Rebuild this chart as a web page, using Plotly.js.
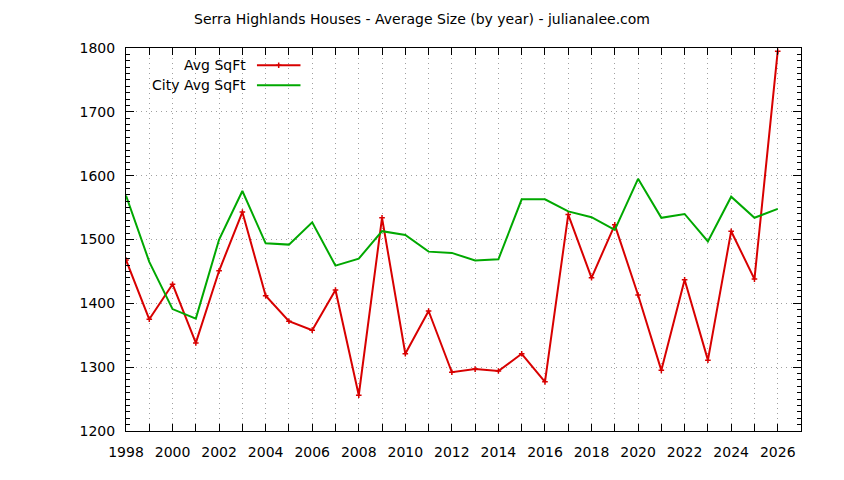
<!DOCTYPE html>
<html>
<head>
<meta charset="utf-8">
<script src="https://cdn.plot.ly/plotly-3.0.1.min.js"></script>
<style>html,body{margin:0;padding:0;background:#fff;}#chart{width:844px;height:480px;}</style>
</head>
<body>
<div id="chart"></div>
<script>
const years = [1998,1999,2000,2001,2002,2003,2004,2005,2006,2007,2008,2009,2010,2011,2012,2013,2014,2015,2016,2017,2018,2019,2020,2021,2022,2023,2024,2025,2026];
const avgSqft = [1468,1375,1430,1338,1451,1543,1412,1372,1358,1421,1256,1534,1321,1388,1292,1297,1294,1321,1277,1539,1440,1523,1413,1295,1437,1311,1513,1438,1795];
const cityAvgSqft = [1569,1465,1391,1376,1500,1576,1494,1492,1527,1459,1470,1513,1507,1481,1479,1467,1469,1563,1563,1544,1535,1515,1595,1534,1540,1497,1567,1534,1548];
const seriesNames = ["Avg SqFt","City Avg SqFt"];
const titleText = "Serra Highlands Houses - Average Size (by year) - julianalee.com";

const RED = "#d80000", GREEN = "#00a800";
const FONT = "DejaVu Sans, sans-serif";
const FS = 14;

const traces = [
  {x: years, y: avgSqft, name: seriesNames[0], type: "scatter", mode: "lines+markers",
   line: {color: RED, width: 2}, marker: {symbol: "cross-thin", size: 4, line: {color: RED, width: 1.5}, color: RED},
   showlegend: false},
  {x: years, y: cityAvgSqft, name: seriesNames[1], type: "scatter", mode: "lines",
   line: {color: GREEN, width: 2}, showlegend: false}
];

const gridCol = "#a0a0a0";
const gridDash = "1px,4px";
const layout = {
  width: 844, height: 480,
  margin: {l: 126, r: 43, t: 48, b: 49},
  paper_bgcolor: "#fff", plot_bgcolor: "#fff",
  font: {family: FONT, size: FS, color: "#000"},
  title: {text: titleText, font: {family: FONT, size: FS, color: "#000"}, x: 0.5, xref: "container", xanchor: "center", y: 1 - 19/480, yref: "container", yanchor: "middle"},
  xaxis: {range: [1998, 2027], dtick: 2, tick0: 1998, tickformat: "d",
    ticks: "inside", ticklen: 7, tickcolor: "#000", tickwidth: 1,
    showline: true, linecolor: "#000", linewidth: 1, mirror: "allticks",
    showgrid: true, gridcolor: gridCol, griddash: gridDash, gridwidth: 1,
    minor: {dtick: 1, ticks: "inside", ticklen: 7, tickcolor: "#000", showgrid: true, gridcolor: gridCol, griddash: gridDash, gridwidth: 1},
    zeroline: false, tickfont: {family: FONT, size: FS}, ticklabelstandoff: 8, fixedrange: true},
  yaxis: {range: [1200, 1800], dtick: 100, tick0: 1200,
    ticks: "inside", ticklen: 8, tickcolor: "#000", tickwidth: 1,
    showline: true, linecolor: "#000", linewidth: 1, mirror: "allticks",
    showgrid: true, gridcolor: gridCol, griddash: gridDash, gridwidth: 1,
    minor: {dtick: 10, ticks: "inside", ticklen: 4, tickcolor: "#000", showgrid: false},
    zeroline: false, tickfont: {family: FONT, size: FS}, ticklabelstandoff: 7, fixedrange: true},
  showlegend: false,
  annotations: [
    {text: seriesNames[0], xref: "paper", yref: "paper", x: 0.1807, y: 0.9548, xanchor: "right", yanchor: "middle", showarrow: false, font: {family: FONT, size: FS, color: "#000"}},
    {text: seriesNames[1], xref: "paper", yref: "paper", x: 0.1807, y: 0.9026, xanchor: "right", yanchor: "middle", showarrow: false, font: {family: FONT, size: FS, color: "#000"}}
  ],
  shapes: [
    {type: "line", xref: "paper", yref: "paper", x0: 0.194, x1: 0.2585, y0: 0.9548, y1: 0.9548, line: {color: RED, width: 2}},
    {type: "line", xref: "paper", yref: "paper", x0: 0.194, x1: 0.2585, y0: 0.9026, y1: 0.9026, line: {color: GREEN, width: 2}}
  ]
};
traces.push({x: [0.2262], y: [0.9548], xaxis: "x2", yaxis: "y2", type: "scatter", mode: "markers",
  marker: {symbol: "cross-thin", size: 4, line: {color: RED, width: 1.5}}, showlegend: false, hoverinfo: "skip"});
layout.xaxis2 = {range: [0, 1], domain: [0, 1], overlaying: "x", visible: false, fixedrange: true};
layout.yaxis2 = {range: [0, 1], domain: [0, 1], overlaying: "y", visible: false, fixedrange: true};

Plotly.newPlot("chart", traces, layout, {displayModeBar: false, staticPlot: true});
</script>
</body>
</html>
